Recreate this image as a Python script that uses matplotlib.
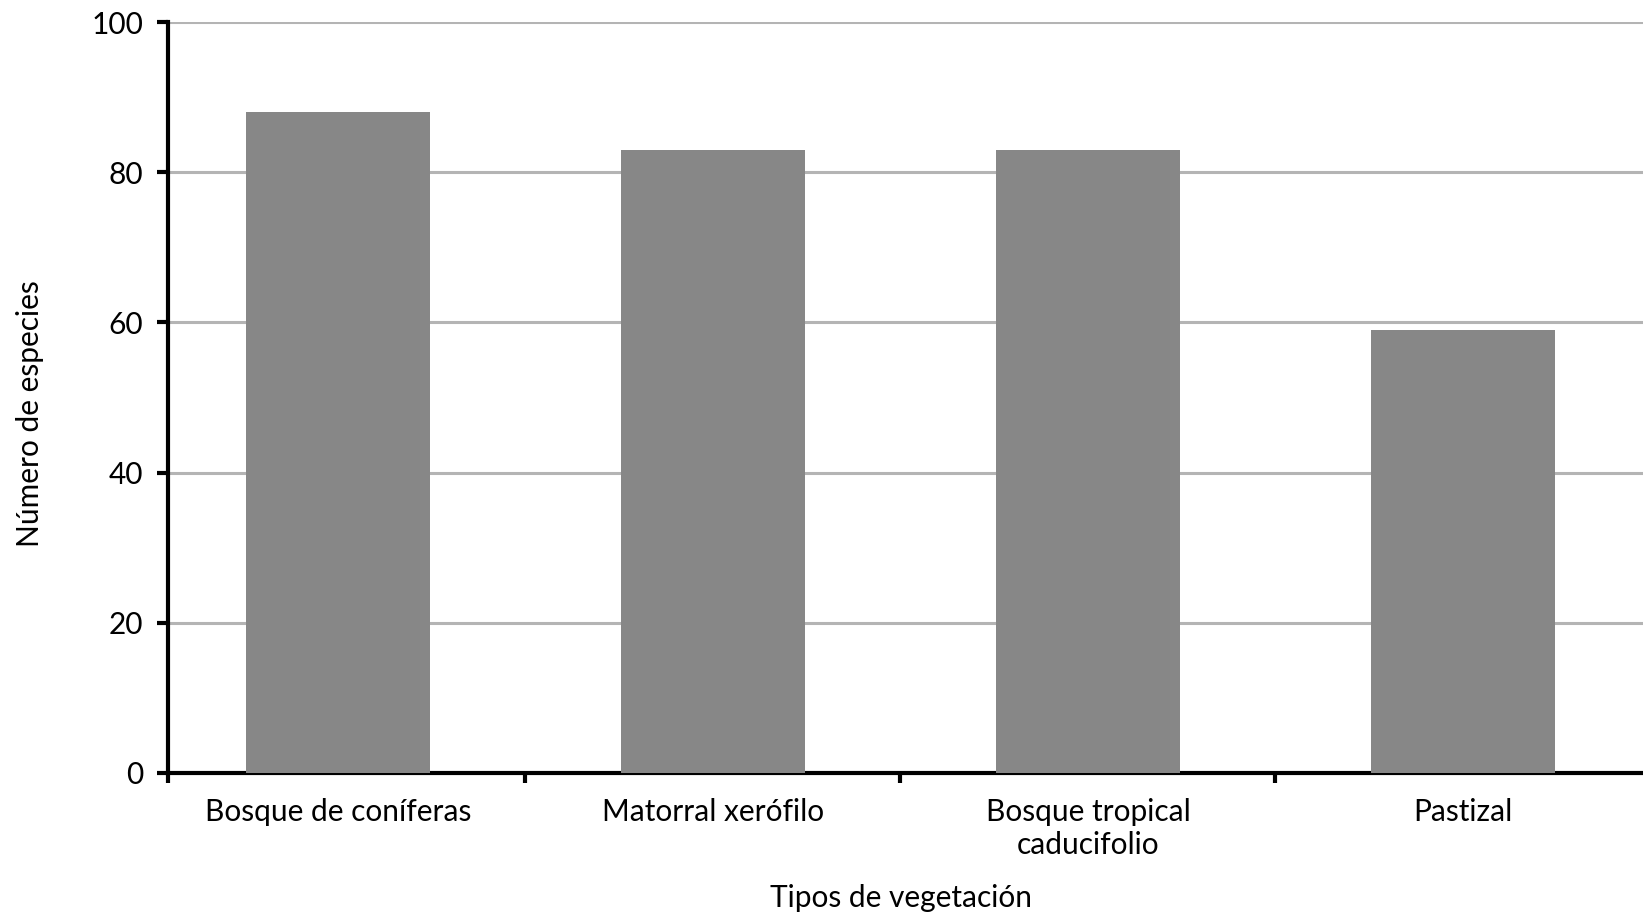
import matplotlib
matplotlib.use("Agg")
import matplotlib.pyplot as plt

categories = ["Bosque de coníferas", "Matorral xerófilo", "Bosque tropical\ncaducifolio", "Pastizal"]
values = [88, 83, 83, 59]
yticks = [0, 20, 40, 60, 80, 100]

plt.rcParams['font.family'] = ['Lato', 'DejaVu Sans']

W, H = 1643, 915
fig = plt.figure(figsize=(W/100, H/100), dpi=100)
px_unit = 375.0
x0 = -0.453
x1 = 3.6
left_px, bottom_px, top_px = 168, 773, 22
ax = fig.add_axes([left_px/W, (H-bottom_px)/H, (x1-x0)*px_unit/W, (bottom_px-top_px)/H])

xs = list(range(len(categories)))
ax.bar(xs, values, width=0.49, color='#878787', zorder=3)
ax.set_xlim(x0, x1)
ax.set_ylim(0, 100)
ax.set_yticks(yticks)
ax.yaxis.grid(True, color='#b4b4b4', linewidth=2.2, zorder=0)
ax.set_axisbelow(True)

for s in ['top', 'right']:
    ax.spines[s].set_visible(False)
for s in ['left', 'bottom']:
    ax.spines[s].set_linewidth(3)
    ax.spines[s].set_color('black')

fs = 21.5
ax.set_xticks(xs)
ax.set_xticklabels(categories, fontsize=fs, linespacing=1.2)
ax.tick_params(axis='x', which='major', length=0, pad=18)
ax.set_xticks([x0, 0.5, 1.5, 2.5, 3.5], minor=True)
ax.tick_params(axis='x', which='minor', length=7, width=3, direction='out')
ax.tick_params(axis='y', length=8, width=3, labelsize=fs, pad=10)

fig.text(901/W, 1 - 898/H, "Tipos de vegetación", fontsize=fs, ha='center', va='center')
fig.text(30/W, 1 - 414/H, "Número de especies", fontsize=fs, ha='center', va='center', rotation=90)

fig.savefig("out.png", dpi=100)
